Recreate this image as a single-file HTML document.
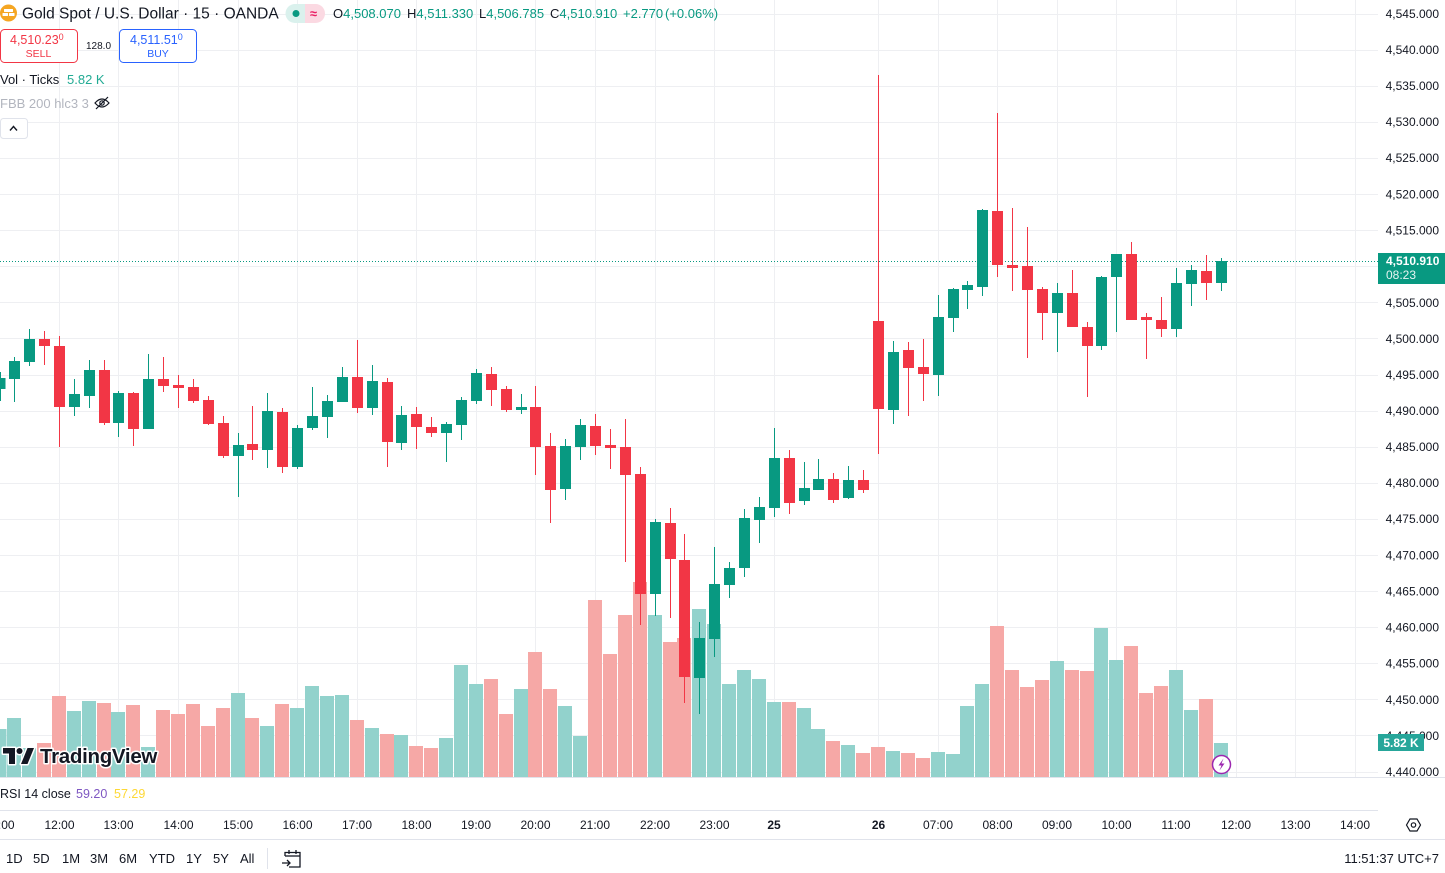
<!DOCTYPE html>
<html><head><meta charset="utf-8"><style>
html,body{margin:0;padding:0;background:#fff;}
svg{display:block;font-family:"Liberation Sans",sans-serif;}
</style></head><body>
<svg width="1445" height="873" viewBox="0 0 1445 873" xmlns="http://www.w3.org/2000/svg">
<rect width="1445" height="873" fill="#fff"/>
<!-- grid -->
<g stroke="#eeeff2" stroke-width="1">
<line x1="0" x2="1378" y1="14.5" y2="14.5"/><line x1="0" x2="1378" y1="50.5" y2="50.5"/><line x1="0" x2="1378" y1="86.5" y2="86.5"/><line x1="0" x2="1378" y1="122.5" y2="122.5"/><line x1="0" x2="1378" y1="158.5" y2="158.5"/><line x1="0" x2="1378" y1="194.5" y2="194.5"/><line x1="0" x2="1378" y1="230.5" y2="230.5"/><line x1="0" x2="1378" y1="266.5" y2="266.5"/><line x1="0" x2="1378" y1="302.5" y2="302.5"/><line x1="0" x2="1378" y1="338.5" y2="338.5"/><line x1="0" x2="1378" y1="375.5" y2="375.5"/><line x1="0" x2="1378" y1="411.5" y2="411.5"/><line x1="0" x2="1378" y1="447.5" y2="447.5"/><line x1="0" x2="1378" y1="483.5" y2="483.5"/><line x1="0" x2="1378" y1="519.5" y2="519.5"/><line x1="0" x2="1378" y1="555.5" y2="555.5"/><line x1="0" x2="1378" y1="591.5" y2="591.5"/><line x1="0" x2="1378" y1="627.5" y2="627.5"/><line x1="0" x2="1378" y1="663.5" y2="663.5"/><line x1="0" x2="1378" y1="699.5" y2="699.5"/><line x1="0" x2="1378" y1="735.5" y2="735.5"/><line x1="0" x2="1378" y1="772.5" y2="772.5"/>
<line y1="0" y2="777" x1="59.5" x2="59.5"/><line y1="0" y2="777" x1="118.5" x2="118.5"/><line y1="0" y2="777" x1="178.5" x2="178.5"/><line y1="0" y2="777" x1="238.5" x2="238.5"/><line y1="0" y2="777" x1="297.5" x2="297.5"/><line y1="0" y2="777" x1="357.5" x2="357.5"/><line y1="0" y2="777" x1="416.5" x2="416.5"/><line y1="0" y2="777" x1="476.5" x2="476.5"/><line y1="0" y2="777" x1="535.5" x2="535.5"/><line y1="0" y2="777" x1="595.5" x2="595.5"/><line y1="0" y2="777" x1="655.5" x2="655.5"/><line y1="0" y2="777" x1="714.5" x2="714.5"/><line y1="0" y2="777" x1="774.5" x2="774.5"/><line y1="0" y2="777" x1="878.5" x2="878.5"/><line y1="0" y2="777" x1="938.5" x2="938.5"/><line y1="0" y2="777" x1="997.5" x2="997.5"/><line y1="0" y2="777" x1="1057.5" x2="1057.5"/><line y1="0" y2="777" x1="1116.5" x2="1116.5"/><line y1="0" y2="777" x1="1176.5" x2="1176.5"/><line y1="0" y2="777" x1="1236.5" x2="1236.5"/><line y1="0" y2="777" x1="1295.5" x2="1295.5"/><line y1="0" y2="777" x1="1355.5" x2="1355.5"/>
</g>
<!-- volume green -->
<g fill="#92d2cc">
<rect x="-7.5" y="729" width="14" height="48"/><rect x="7" y="718" width="14" height="59"/><rect x="22" y="748" width="14" height="29"/><rect x="67" y="711" width="14" height="66"/><rect x="82" y="701" width="14" height="76"/><rect x="111" y="712" width="14" height="65"/><rect x="141" y="747" width="14" height="30"/><rect x="231" y="693" width="14" height="84"/><rect x="260" y="726" width="14" height="51"/><rect x="290" y="708" width="14" height="69"/><rect x="305" y="686" width="14" height="91"/><rect x="320" y="696" width="14" height="81"/><rect x="335" y="695" width="14" height="82"/><rect x="365" y="728" width="14" height="49"/><rect x="394" y="735" width="14" height="42"/><rect x="439" y="738" width="14" height="39"/><rect x="454" y="665" width="14" height="112"/><rect x="469" y="684" width="14" height="93"/><rect x="514" y="689" width="14" height="88"/><rect x="558" y="706" width="14" height="71"/><rect x="573" y="736" width="14" height="41"/><rect x="648" y="615" width="14" height="162"/><rect x="692" y="609" width="14" height="168"/><rect x="707" y="624" width="14" height="153"/><rect x="722" y="684" width="14" height="93"/><rect x="737" y="670" width="14" height="107"/><rect x="752" y="679" width="14" height="98"/><rect x="767" y="702" width="14" height="75"/><rect x="797" y="708" width="14" height="69"/><rect x="811" y="729" width="14" height="48"/><rect x="841" y="745" width="14" height="32"/><rect x="886" y="751" width="14" height="26"/><rect x="931" y="752" width="14" height="25"/><rect x="946" y="754" width="14" height="23"/><rect x="960" y="706" width="14" height="71"/><rect x="975" y="684" width="14" height="93"/><rect x="1050" y="661" width="14" height="116"/><rect x="1094" y="628" width="14" height="149"/><rect x="1109" y="660" width="14" height="117"/><rect x="1169" y="670" width="14" height="107"/><rect x="1184" y="710" width="14" height="67"/><rect x="1214" y="743" width="14" height="34"/>
</g>
<!-- volume red -->
<g fill="#f6a8a6">
<rect x="37" y="743" width="14" height="34"/><rect x="52" y="696" width="14" height="81"/><rect x="97" y="703" width="14" height="74"/><rect x="126" y="705" width="14" height="72"/><rect x="156" y="710" width="14" height="67"/><rect x="171" y="714" width="14" height="63"/><rect x="186" y="704" width="14" height="73"/><rect x="201" y="726" width="14" height="51"/><rect x="216" y="708" width="14" height="69"/><rect x="245" y="718" width="14" height="59"/><rect x="275" y="704" width="14" height="73"/><rect x="350" y="720" width="14" height="57"/><rect x="380" y="734" width="14" height="43"/><rect x="409" y="746" width="14" height="31"/><rect x="424" y="748" width="14" height="29"/><rect x="484" y="679" width="14" height="98"/><rect x="499" y="714" width="14" height="63"/><rect x="528" y="652" width="14" height="125"/><rect x="543" y="689" width="14" height="88"/><rect x="588" y="600" width="14" height="177"/><rect x="603" y="654" width="14" height="123"/><rect x="618" y="615" width="14" height="162"/><rect x="633" y="582" width="14" height="195"/><rect x="663" y="642" width="14" height="135"/><rect x="677" y="638" width="14" height="139"/><rect x="782" y="702" width="14" height="75"/><rect x="826" y="741" width="14" height="36"/><rect x="856" y="753" width="14" height="24"/><rect x="871" y="747" width="14" height="30"/><rect x="901" y="753" width="14" height="24"/><rect x="916" y="758" width="14" height="19"/><rect x="990" y="626" width="14" height="151"/><rect x="1005" y="670" width="14" height="107"/><rect x="1020" y="687" width="14" height="90"/><rect x="1035" y="680" width="14" height="97"/><rect x="1065" y="670" width="14" height="107"/><rect x="1080" y="671" width="14" height="106"/><rect x="1124" y="646" width="14" height="131"/><rect x="1139" y="693" width="14" height="84"/><rect x="1154" y="686" width="14" height="91"/><rect x="1199" y="699" width="14" height="78"/>
</g>
<!-- dotted price line -->
<line x1="0" x2="1378" y1="261.5" y2="261.5" stroke="#089981" stroke-width="1" stroke-dasharray="1,2"/>
<!-- green candles -->
<g stroke="#089981" fill="#089981" stroke-width="1">
<line x1="0.5" x2="0.5" y1="372" y2="401"/><rect x="-5.5" y="378" width="11" height="11" stroke="none"/>
<line x1="14.5" x2="14.5" y1="357" y2="402"/><rect x="9" y="361" width="11" height="18" stroke="none"/>
<line x1="29.5" x2="29.5" y1="329" y2="366"/><rect x="24" y="339" width="11" height="23" stroke="none"/>
<line x1="74.5" x2="74.5" y1="379" y2="416"/><rect x="69" y="394" width="11" height="13" stroke="none"/>
<line x1="89.5" x2="89.5" y1="360" y2="408"/><rect x="84" y="370" width="11" height="26" stroke="none"/>
<line x1="118.5" x2="118.5" y1="391" y2="437"/><rect x="113" y="393" width="11" height="30" stroke="none"/>
<line x1="148.5" x2="148.5" y1="354" y2="429"/><rect x="143" y="379" width="11" height="50" stroke="none"/>
<line x1="238.5" x2="238.5" y1="433" y2="497"/><rect x="233" y="445" width="11" height="11" stroke="none"/>
<line x1="267.5" x2="267.5" y1="393" y2="468"/><rect x="262" y="411" width="11" height="39" stroke="none"/>
<line x1="297.5" x2="297.5" y1="425" y2="469"/><rect x="292" y="428" width="11" height="39" stroke="none"/>
<line x1="312.5" x2="312.5" y1="387" y2="430"/><rect x="307" y="416" width="11" height="12" stroke="none"/>
<line x1="327.5" x2="327.5" y1="395" y2="438"/><rect x="322" y="401" width="11" height="16" stroke="none"/>
<line x1="342.5" x2="342.5" y1="367" y2="402"/><rect x="337" y="377" width="11" height="25" stroke="none"/>
<line x1="372.5" x2="372.5" y1="365" y2="415"/><rect x="367" y="381" width="11" height="27" stroke="none"/>
<line x1="401.5" x2="401.5" y1="406" y2="450"/><rect x="396" y="415" width="11" height="28" stroke="none"/>
<line x1="446.5" x2="446.5" y1="422" y2="462"/><rect x="441" y="424" width="11" height="9" stroke="none"/>
<line x1="461.5" x2="461.5" y1="397" y2="440"/><rect x="456" y="400" width="11" height="25" stroke="none"/>
<line x1="476.5" x2="476.5" y1="369" y2="404"/><rect x="471" y="373" width="11" height="28" stroke="none"/>
<line x1="521.5" x2="521.5" y1="394" y2="414"/><rect x="516" y="407" width="11" height="3" stroke="none"/>
<line x1="565.5" x2="565.5" y1="439" y2="500"/><rect x="560" y="446" width="11" height="43" stroke="none"/>
<line x1="580.5" x2="580.5" y1="419" y2="460"/><rect x="575" y="425" width="11" height="22" stroke="none"/>
<line x1="655.5" x2="655.5" y1="519" y2="616"/><rect x="650" y="522" width="11" height="72" stroke="none"/>
<line x1="699.5" x2="699.5" y1="622" y2="714"/><rect x="694" y="638" width="11" height="40" stroke="none"/>
<line x1="714.5" x2="714.5" y1="547" y2="657"/><rect x="709" y="584" width="11" height="55" stroke="none"/>
<line x1="729.5" x2="729.5" y1="562" y2="598"/><rect x="724" y="568" width="11" height="17" stroke="none"/>
<line x1="744.5" x2="744.5" y1="509" y2="577"/><rect x="739" y="518" width="11" height="50" stroke="none"/>
<line x1="759.5" x2="759.5" y1="497" y2="543"/><rect x="754" y="507" width="11" height="13" stroke="none"/>
<line x1="774.5" x2="774.5" y1="428" y2="517"/><rect x="769" y="458" width="11" height="50" stroke="none"/>
<line x1="804.5" x2="804.5" y1="462" y2="505"/><rect x="799" y="488" width="11" height="13" stroke="none"/>
<line x1="818.5" x2="818.5" y1="459" y2="490"/><rect x="813" y="479" width="11" height="11" stroke="none"/>
<line x1="848.5" x2="848.5" y1="466" y2="499"/><rect x="843" y="480" width="11" height="18" stroke="none"/>
<line x1="893.5" x2="893.5" y1="341" y2="424"/><rect x="888" y="352" width="11" height="58" stroke="none"/>
<line x1="938.5" x2="938.5" y1="295" y2="396"/><rect x="933" y="317" width="11" height="58" stroke="none"/>
<line x1="953.5" x2="953.5" y1="288" y2="332"/><rect x="948" y="289" width="11" height="29" stroke="none"/>
<line x1="967.5" x2="967.5" y1="281" y2="309"/><rect x="962" y="285" width="11" height="5" stroke="none"/>
<line x1="982.5" x2="982.5" y1="209" y2="296"/><rect x="977" y="210" width="11" height="77" stroke="none"/>
<line x1="1057.5" x2="1057.5" y1="283" y2="352"/><rect x="1052" y="293" width="11" height="20" stroke="none"/>
<line x1="1101.5" x2="1101.5" y1="276" y2="350"/><rect x="1096" y="277" width="11" height="69" stroke="none"/>
<line x1="1116.5" x2="1116.5" y1="254" y2="332"/><rect x="1111" y="254" width="11" height="23" stroke="none"/>
<line x1="1176.5" x2="1176.5" y1="268" y2="337"/><rect x="1171" y="283" width="11" height="46" stroke="none"/>
<line x1="1191.5" x2="1191.5" y1="265" y2="306"/><rect x="1186" y="270" width="11" height="14" stroke="none"/>
<line x1="1221.5" x2="1221.5" y1="258" y2="291"/><rect x="1216" y="261" width="11" height="22" stroke="none"/>
</g>
<!-- red candles -->
<g stroke="#f23645" fill="#f23645" stroke-width="1">
<line x1="44.5" x2="44.5" y1="331" y2="365"/><rect x="39" y="339" width="11" height="7" stroke="none"/>
<line x1="59.5" x2="59.5" y1="336" y2="447"/><rect x="54" y="346" width="11" height="61" stroke="none"/>
<line x1="104.5" x2="104.5" y1="360" y2="425"/><rect x="99" y="370" width="11" height="53" stroke="none"/>
<line x1="133.5" x2="133.5" y1="392" y2="446"/><rect x="128" y="393" width="11" height="36" stroke="none"/>
<line x1="163.5" x2="163.5" y1="357" y2="392"/><rect x="158" y="379" width="11" height="7" stroke="none"/>
<line x1="178.5" x2="178.5" y1="375" y2="408"/><rect x="173" y="385" width="11" height="3" stroke="none"/>
<line x1="193.5" x2="193.5" y1="379" y2="403"/><rect x="188" y="387" width="11" height="14" stroke="none"/>
<line x1="208.5" x2="208.5" y1="396" y2="425"/><rect x="203" y="400" width="11" height="24" stroke="none"/>
<line x1="223.5" x2="223.5" y1="416" y2="458"/><rect x="218" y="423" width="11" height="33" stroke="none"/>
<line x1="252.5" x2="252.5" y1="406" y2="460"/><rect x="247" y="444" width="11" height="6" stroke="none"/>
<line x1="282.5" x2="282.5" y1="408" y2="473"/><rect x="277" y="412" width="11" height="55" stroke="none"/>
<line x1="357.5" x2="357.5" y1="340" y2="413"/><rect x="352" y="377" width="11" height="31" stroke="none"/>
<line x1="387.5" x2="387.5" y1="378" y2="467"/><rect x="382" y="382" width="11" height="60" stroke="none"/>
<line x1="416.5" x2="416.5" y1="407" y2="449"/><rect x="411" y="414" width="11" height="13" stroke="none"/>
<line x1="431.5" x2="431.5" y1="417" y2="437"/><rect x="426" y="427" width="11" height="6" stroke="none"/>
<line x1="491.5" x2="491.5" y1="367" y2="406"/><rect x="486" y="374" width="11" height="16" stroke="none"/>
<line x1="506.5" x2="506.5" y1="386" y2="412"/><rect x="501" y="389" width="11" height="21" stroke="none"/>
<line x1="535.5" x2="535.5" y1="386" y2="475"/><rect x="530" y="407" width="11" height="40" stroke="none"/>
<line x1="550.5" x2="550.5" y1="433" y2="523"/><rect x="545" y="446" width="11" height="44" stroke="none"/>
<line x1="595.5" x2="595.5" y1="414" y2="455"/><rect x="590" y="426" width="11" height="20" stroke="none"/>
<line x1="610.5" x2="610.5" y1="429" y2="469"/><rect x="605" y="445" width="11" height="3" stroke="none"/>
<line x1="625.5" x2="625.5" y1="419" y2="562"/><rect x="620" y="447" width="11" height="28" stroke="none"/>
<line x1="640.5" x2="640.5" y1="467" y2="625"/><rect x="635" y="474" width="11" height="120" stroke="none"/>
<line x1="670.5" x2="670.5" y1="508" y2="618"/><rect x="665" y="523" width="11" height="36" stroke="none"/>
<line x1="684.5" x2="684.5" y1="534" y2="703"/><rect x="679" y="560" width="11" height="117" stroke="none"/>
<line x1="789.5" x2="789.5" y1="450" y2="514"/><rect x="784" y="458" width="11" height="45" stroke="none"/>
<line x1="833.5" x2="833.5" y1="473" y2="503"/><rect x="828" y="479" width="11" height="21" stroke="none"/>
<line x1="863.5" x2="863.5" y1="470" y2="493"/><rect x="858" y="480" width="11" height="10" stroke="none"/>
<line x1="878.5" x2="878.5" y1="75" y2="454"/><rect x="873" y="321" width="11" height="88" stroke="none"/>
<line x1="908.5" x2="908.5" y1="342" y2="416"/><rect x="903" y="350" width="11" height="18" stroke="none"/>
<line x1="923.5" x2="923.5" y1="339" y2="401"/><rect x="918" y="367" width="11" height="7" stroke="none"/>
<line x1="997.5" x2="997.5" y1="113" y2="277"/><rect x="992" y="211" width="11" height="54" stroke="none"/>
<line x1="1012.5" x2="1012.5" y1="208" y2="291"/><rect x="1007" y="265" width="11" height="3" stroke="none"/>
<line x1="1027.5" x2="1027.5" y1="227" y2="358"/><rect x="1022" y="266" width="11" height="24" stroke="none"/>
<line x1="1042.5" x2="1042.5" y1="287" y2="340"/><rect x="1037" y="289" width="11" height="24" stroke="none"/>
<line x1="1072.5" x2="1072.5" y1="270" y2="327"/><rect x="1067" y="293" width="11" height="34" stroke="none"/>
<line x1="1087.5" x2="1087.5" y1="322" y2="397"/><rect x="1082" y="327" width="11" height="19" stroke="none"/>
<line x1="1131.5" x2="1131.5" y1="242" y2="320"/><rect x="1126" y="254" width="11" height="66" stroke="none"/>
<line x1="1146.5" x2="1146.5" y1="313" y2="359"/><rect x="1141" y="317" width="11" height="3" stroke="none"/>
<line x1="1161.5" x2="1161.5" y1="297" y2="337"/><rect x="1156" y="320" width="11" height="9" stroke="none"/>
<line x1="1206.5" x2="1206.5" y1="255" y2="300"/><rect x="1201" y="271" width="11" height="12" stroke="none"/>
</g>
<!-- lightning icon -->
<circle cx="1221.5" cy="764.5" r="9" fill="#fff" stroke="#9c27b0" stroke-width="1.5"/>
<path d="M1223.5 758.5 L1218.5 765.5 L1221.5 765.5 L1219.5 770.5 L1224.5 763.5 L1221.5 763.5 Z" fill="#9c27b0"/>
<!-- TradingView logo -->
<g stroke="#fff" stroke-width="3" stroke-linejoin="round" paint-order="stroke" fill="#131722">
<path d="M3 748 H15 V764 H9 V753.5 H3 Z"/>
<circle cx="19.5" cy="751" r="3"/>
<path d="M21 764 L27.5 748 H34 L27.5 764 Z"/>
<text x="40" y="763" font-size="20.5" font-weight="bold" letter-spacing="-0.3">TradingView</text>
</g>
<!-- header -->
<circle cx="8.5" cy="13" r="8.5" fill="#f5a623"/>
<rect x="4" y="9" width="9" height="3" fill="#fff" rx="0.5"/>
<rect x="2.5" y="13" width="5.5" height="3" fill="#fff" rx="0.5"/>
<rect x="9" y="13" width="5.5" height="3" fill="#fff" rx="0.5"/>
<text x="22" y="18.5" font-size="15.5" fill="#131722">Gold Spot / U.S. Dollar · 15 · OANDA</text>
<path d="M295 4 H305 V23 H295 A9.5 9.5 0 0 1 295 4 Z" fill="#daf1ed"/>
<path d="M305 4 H315.5 A9.5 9.5 0 0 1 315.5 23 H305 Z" fill="#fbd9e2"/>
<circle cx="296" cy="13.5" r="3.5" fill="#089981"/>
<text x="313.5" y="18" font-size="13" font-weight="bold" fill="#e91e63" text-anchor="middle">≈</text>
<g font-size="13">
<text x="333" y="18"><tspan fill="#131722">O</tspan><tspan fill="#089981">4,508.070</tspan></text>
<text x="407" y="18"><tspan fill="#131722">H</tspan><tspan fill="#089981">4,511.330</tspan></text>
<text x="479" y="18"><tspan fill="#131722">L</tspan><tspan fill="#089981">4,506.785</tspan></text>
<text x="550" y="18"><tspan fill="#131722">C</tspan><tspan fill="#089981">4,510.910</tspan></text>
<text x="623" y="18" fill="#089981">+2.770</text>
<text x="665" y="18" fill="#089981">(+0.06%)</text>
</g>
<!-- sell / buy -->
<rect x="0.5" y="29.5" width="77" height="33" rx="4" fill="#fff" stroke="#f23645"/>
<text x="10" y="44" font-size="12.5" fill="#f23645">4,510.23<tspan font-size="9" dy="-4">0</tspan></text>
<text x="38.5" y="57" font-size="10.5" fill="#f23645" text-anchor="middle">SELL</text>
<text x="86" y="49" font-size="10" fill="#131722">128.0</text>
<rect x="119.5" y="29.5" width="77" height="33" rx="4" fill="#fff" stroke="#2962ff"/>
<text x="130" y="44" font-size="12.5" fill="#2962ff">4,511.51<tspan font-size="9" dy="-4">0</tspan></text>
<text x="158" y="57" font-size="10.5" fill="#2962ff" text-anchor="middle">BUY</text>
<text x="0" y="84" font-size="13" fill="#131722">Vol · Ticks</text>
<text x="67" y="84" font-size="13" fill="#22ab94">5.82 K</text>
<text x="0" y="108" font-size="13" fill="#b2b5be">FBB 200 hlc3 3</text>
<g fill="none" stroke="#131722" stroke-width="1.2">
<path d="M95 103 Q102 95 109 103 Q102 111 95 103 Z"/>
<circle cx="102" cy="103" r="2.2"/>
<line x1="96" y1="109" x2="108" y2="97"/>
</g>
<rect x="0.5" y="118.5" width="27" height="20" rx="3" fill="#fff" stroke="#e0e3eb"/>
<path d="M10 130.5 L13.5 126.5 L17 130.5" fill="none" stroke="#131722" stroke-width="1.4"/>
<!-- price axis -->
<rect x="1378" y="0" width="67" height="777" fill="#fff"/>
<g font-size="12" fill="#131722" text-anchor="end">
<text x="1439" y="18">4,545.000</text><text x="1439" y="54">4,540.000</text><text x="1439" y="90">4,535.000</text><text x="1439" y="126">4,530.000</text><text x="1439" y="162">4,525.000</text><text x="1439" y="198.5">4,520.000</text><text x="1439" y="234.5">4,515.000</text><text x="1439" y="307">4,505.000</text><text x="1439" y="343">4,500.000</text><text x="1439" y="379">4,495.000</text><text x="1439" y="415">4,490.000</text><text x="1439" y="451">4,485.000</text><text x="1439" y="487">4,480.000</text><text x="1439" y="523">4,475.000</text><text x="1439" y="559.5">4,470.000</text><text x="1439" y="595.5">4,465.000</text><text x="1439" y="631.5">4,460.000</text><text x="1439" y="667.5">4,455.000</text><text x="1439" y="704">4,450.000</text><text x="1439" y="740">4,445.000</text><text x="1439" y="776">4,440.000</text>
</g>
<rect x="1378" y="253" width="67" height="31" fill="#089981"/>
<text x="1386" y="265" font-size="12" font-weight="bold" fill="#fff">4,510.910</text>
<text x="1386" y="279" font-size="12" fill="#e6f5f2">08:23</text>
<rect x="1378" y="734" width="46" height="17" fill="#26a69a"/>
<text x="1401" y="747" font-size="12" font-weight="bold" fill="#fff" text-anchor="middle">5.82 K</text>
<!-- lower panes -->
<rect x="0" y="777.5" width="1445" height="95.5" fill="#fff"/>
<line x1="0" x2="1445" y1="777.5" y2="777.5" stroke="#e0e3eb"/>
<text x="0" y="798" font-size="12.5" fill="#131722">RSI 14 close</text>
<text x="76" y="798" font-size="12.5" fill="#7e57c2">59.20</text>
<text x="114" y="798" font-size="12.5" fill="#fdd835">57.29</text>
<line x1="0" x2="1378" y1="810.5" y2="810.5" stroke="#e0e3eb"/>
<line x1="0" x2="1445" y1="839.5" y2="839.5" stroke="#e0e3eb"/>
<g font-size="12" fill="#131722" text-anchor="middle">
<text x="0" y="829">11:00</text><text x="59.5" y="829">12:00</text><text x="118.5" y="829">13:00</text><text x="178.5" y="829">14:00</text><text x="238" y="829">15:00</text><text x="297.5" y="829">16:00</text><text x="357" y="829">17:00</text><text x="416.5" y="829">18:00</text><text x="476" y="829">19:00</text><text x="535.5" y="829">20:00</text><text x="595" y="829">21:00</text><text x="655" y="829">22:00</text><text x="714.5" y="829">23:00</text><text x="774" y="829" font-weight="bold">25</text><text x="878.5" y="829" font-weight="bold">26</text><text x="938" y="829">07:00</text><text x="997.5" y="829">08:00</text><text x="1057" y="829">09:00</text><text x="1116.5" y="829">10:00</text><text x="1176" y="829">11:00</text><text x="1236" y="829">12:00</text><text x="1295.5" y="829">13:00</text><text x="1355" y="829">14:00</text>
</g>
<g fill="none" stroke="#131722" stroke-width="1.2">
<path d="M1406.5 825 L1410 819 H1417 L1420.5 825 L1417 831 H1410 Z"/>
<circle cx="1413.5" cy="825" r="2.2"/>
</g>
<g font-size="13" fill="#131722">
<text x="6" y="863">1D</text><text x="33" y="863">5D</text><text x="62" y="863">1M</text><text x="90" y="863">3M</text><text x="119" y="863">6M</text><text x="149" y="863">YTD</text><text x="186" y="863">1Y</text><text x="213" y="863">5Y</text><text x="240" y="863">All</text>
</g>
<line x1="267.5" x2="267.5" y1="848" y2="869" stroke="#e0e3eb"/>
<g fill="none" stroke="#131722" stroke-width="1.3">
<path d="M285 856 V852.5 H300 V867 H289"/>
<line x1="285" y1="856" x2="300" y2="856"/>
<line x1="289" y1="850" x2="289" y2="854"/><line x1="296" y1="850" x2="296" y2="854"/>
<path d="M282 863 H290 M287 860 L290 863 L287 866"/>
</g>
<text x="1439" y="863" font-size="13" fill="#131722" text-anchor="end">11:51:37 UTC+7</text>
</svg>
</body></html>
